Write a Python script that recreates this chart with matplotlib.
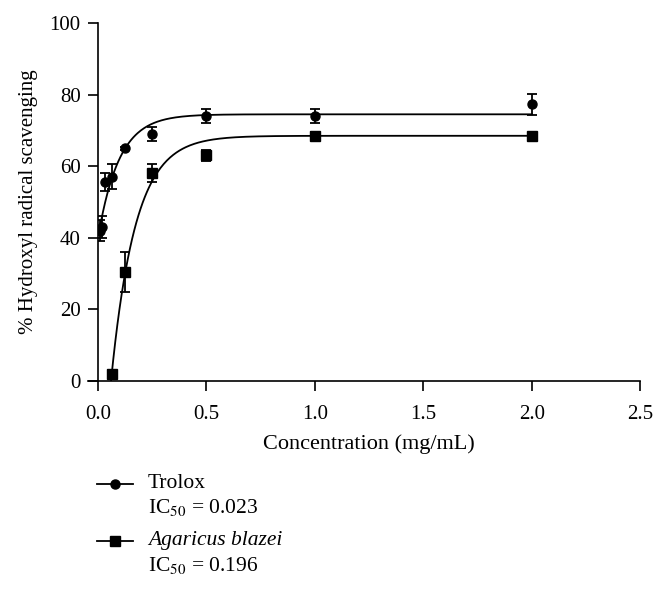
"""Hydroxyl radical scavenging vs concentration: Trolox and Agaricus blazei."""

import numpy as np
import matplotlib

matplotlib.use("Agg")  # headless
import matplotlib.pyplot as plt  # noqa: E402
from matplotlib.lines import Line2D  # noqa: E402

plt.rcParams["font.family"] = ["Liberation Serif", "DejaVu Serif"]
plt.rcParams["mathtext.fontset"] = "stix"

# Trolox
trolox_x = [0.01, 0.017, 0.031, 0.0625, 0.125, 0.25, 0.5, 1.0, 2.0]
trolox_y = [42.0, 43.0, 55.5, 57.0, 65.0, 69.0, 74.0, 74.0, 77.3]
trolox_err = [3.0, 3.0, 2.5, 3.5, 0.5, 2.0, 2.0, 2.0, 3.0]

# Agaricus blazei
agar_x = [0.0625, 0.125, 0.25, 0.5, 1.0, 2.0]
agar_y = [2.0, 30.5, 58.0, 63.0, 68.5, 68.5]
agar_err = [1.0, 5.5, 2.5, 1.5, 1.0, 0.5]

# fitted one-phase association curves (top, bottom/x0, rate)
trolox_fit = (74.5, 40.0, 10.3)
agar_fit = (68.5, 0.06, 8.9)

xticks = [0.0, 0.5, 1.0, 1.5, 2.0, 2.5]
yticks = [0, 20, 40, 60, 80, 100]

fig = plt.figure(figsize=(6.64, 5.92), dpi=100)
ax = fig.add_axes([0.1476, 0.3564, 0.8164, 0.6047])

xs = np.linspace(0.003, 2.0, 400)
top, bot, k = trolox_fit
ax.plot(xs, top - (top - bot) * np.exp(-k * xs), color="black", lw=1.3)
top, x0, k = agar_fit
xa = np.linspace(x0, 2.0, 400)
ax.plot(xa, top * (1 - np.exp(-k * (xa - x0))), color="black", lw=1.3)

ax.errorbar(trolox_x, trolox_y, yerr=trolox_err, fmt="o", color="black",
            ms=6.5, capsize=3.5, elinewidth=1.3, capthick=1.3)
ax.errorbar(agar_x, agar_y, yerr=agar_err, fmt="s", color="black",
            ms=6.5, capsize=3.5, elinewidth=1.3, capthick=1.3)

ax.set_xlim(0, 2.5)
ax.set_ylim(0, 100)
ax.set_xticks(xticks)
ax.set_xticklabels([f"{t:.1f}" for t in xticks])
ax.set_yticks(yticks)
ax.tick_params(direction="out", length=7.5, width=1.2, labelsize=15)
ax.tick_params(axis="x", pad=10)
ax.tick_params(axis="y", pad=5)
ax.spines[["top", "right"]].set_visible(False)
for s in ("left", "bottom"):
    ax.spines[s].set_linewidth(1.2)
ax.spines["bottom"].set_bounds(-0.046, 2.5)  # x axis runs past the y axis
ax.set_xlabel("Concentration (mg/mL)", fontsize=16, labelpad=7)
ax.set_ylabel("% Hydroxyl radical scavenging", fontsize=15, labelpad=8)

# legend drawn by hand (handle aligned with first line of each entry)
W, H = 664, 592
for y_px, marker in ((484, "o"), (541, "s")):
    fig.add_artist(Line2D([97 / W, 133 / W], [1 - y_px / H] * 2, color="black",
                          lw=1.3))
    fig.add_artist(Line2D([115 / W], [1 - y_px / H], color="black",
                          marker=marker, ms=6.5, ls="none"))
fig.text(148 / W, 1 - 484 / H, "Trolox", fontsize=15.5, va="center")
fig.text(148 / W, 1 - 508 / H, r"IC$_{50}$ = 0.023", fontsize=15.5, va="center")
fig.text(148 / W, 1 - 541 / H, "Agaricus blazei", fontsize=15.5, va="center",
         style="italic")
fig.text(148 / W, 1 - 566 / H, r"IC$_{50}$ = 0.196", fontsize=15.5, va="center")

fig.savefig("out.png", dpi=100)
